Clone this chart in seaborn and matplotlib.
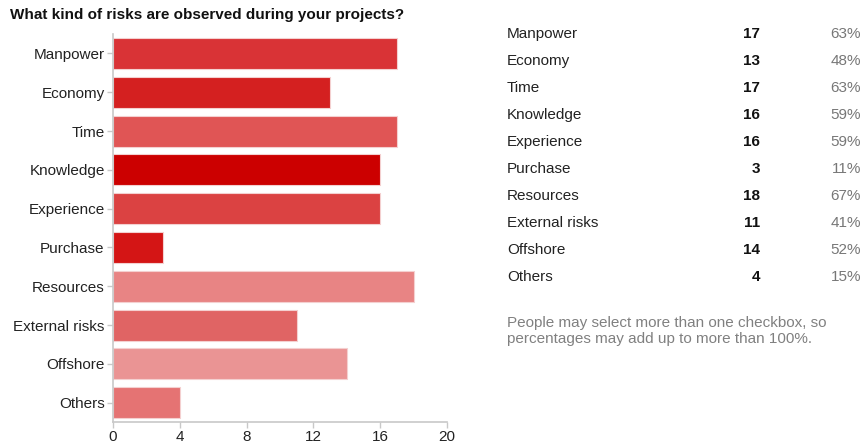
import matplotlib
matplotlib.use("Agg")
import matplotlib.pyplot as plt
import seaborn as sns
import pandas as pd

categories = ["Manpower", "Economy", "Time", "Knowledge", "Experience",
              "Purchase", "Resources", "External risks", "Offshore", "Others"]
counts = [17, 13, 17, 16, 16, 3, 18, 11, 14, 4]
percents = ["63%", "48%", "63%", "59%", "59%", "11%", "67%", "41%", "52%", "15%"]
bar_colors = ["#d93336", "#d42020", "#e05555", "#cc0000", "#db4242",
              "#d41515", "#e88484", "#e06464", "#ea9494", "#e57373"]
x_ticks = [0, 4, 8, 12, 16, 20]
title = "What kind of risks are observed during your projects?"
footnote = "People may select more than one checkbox, so\npercentages may add up to more than 100%."

sns.set_style("white")
plt.rcParams["font.family"] = ["Liberation Sans", "DejaVu Sans"]

df = pd.DataFrame({"category": categories, "count": counts})

fig = plt.figure(figsize=(8.63, 4.48), dpi=100)
ax = fig.add_axes([0.131, 0.058, 0.387, 0.866])
sns.barplot(data=df, y="category", x="count", hue="category",
            palette=bar_colors, legend=False, width=0.8, ax=ax,
            edgecolor="#f4d0d0", linewidth=0.8, saturation=1)
ax.set_xlim(0, 20)
ax.set_xticks(x_ticks)
ax.set_xlabel("")
ax.set_ylabel("")
for s in ["top", "right"]:
    ax.spines[s].set_visible(False)
for s in ["left", "bottom"]:
    ax.spines[s].set_color("#c8c8c8")
    ax.spines[s].set_linewidth(1.2)
ax.tick_params(axis="both", which="both", length=4, width=1, color="#c8c8c8",
               labelsize=11, labelcolor="#222222", pad=2)
ax.tick_params(axis="x", bottom=True, direction="out")
ax.tick_params(axis="y", left=True, direction="out")

fig.text(10 / 863, 1 - 19 / 448, title, fontsize=11, fontweight="bold",
         color="#111111", va="baseline", ha="left")

row_y0 = 38
row_dy = 27
for i, (c, n, p) in enumerate(zip(categories, counts, percents)):
    y = 1 - (row_y0 + i * row_dy) / 448
    fig.text(507 / 863, y, c, fontsize=11, color="#222222", va="baseline", ha="left")
    fig.text(760 / 863, y, str(n), fontsize=11, fontweight="bold",
             color="#111111", va="baseline", ha="right")
    fig.text(861 / 863, y, p, fontsize=11, color="#777777", va="baseline", ha="right")

fig.text(507 / 863, 1 - 331 / 448, footnote, fontsize=11, color="#808080",
         va="center", ha="left", linespacing=1.25)

fig.savefig("out.png", dpi=100)
